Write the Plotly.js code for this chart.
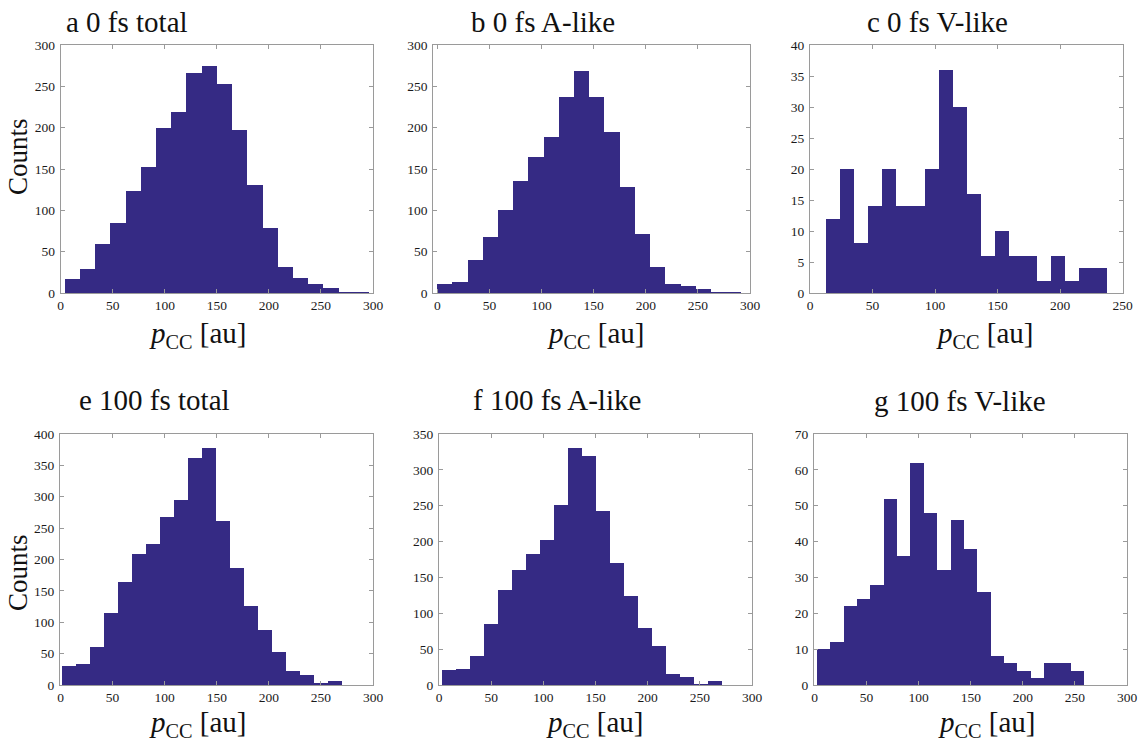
<!DOCTYPE html>
<html>
<head>
<meta charset="utf-8">
<script src="https://cdn.plot.ly/plotly-3.0.1.min.js"></script>
<style>html,body{margin:0;padding:0;background:#fff;}#chart{width:1148px;height:743px;}</style>
</head>
<body>
<div id="chart"></div>
<script>
// ---- Data ----
const panelTitles = ["a 0 fs total", "b 0 fs A-like", "c 0 fs V-like",
                     "e 100 fs total", "f 100 fs A-like", "g 100 fs V-like"];

// histogram counts (20 bins each)
const countsA = [17, 29, 59, 85, 123, 153, 200, 219, 266, 274, 253, 197, 131, 79, 31, 18, 11, 6, 1, 1];
const countsB = [11, 13, 40, 68, 100, 136, 164, 189, 237, 269, 237, 195, 128, 71, 32, 11, 9, 5, 1, 1];
const countsC = [12, 20, 8, 14, 20, 14, 14, 20, 36, 30, 16, 6, 10, 6, 6, 2, 6, 2, 4, 4];
const countsE = [31, 34, 61, 114, 164, 208, 224, 268, 295, 361, 377, 261, 187, 126, 88, 52, 23, 16, 3, 6];
const countsF = [21, 22, 40, 85, 132, 160, 182, 202, 251, 330, 320, 243, 170, 124, 79, 54, 15, 11, 1, 5];
const countsG = [10, 12, 22, 24, 28, 52, 36, 62, 48, 32, 46, 38, 26, 8, 6, 4, 2, 6, 6, 4];

// bin range [first edge, last edge] in p_CC (au)
const binsA = [3.5, 296];
const binsB = [0, 292];
const binsC = [13, 237.7];
const binsE = [1.6, 270.5];
const binsF = [3.2, 270.8];
const binsG = [2.2, 259];

// axis ranges
const xRangeA = [0, 300], yRangeA = [0, 300];
const xRangeB = [-4, 300], yRangeB = [0, 300];
const xRangeC = [0, 250], yRangeC = [0, 40];
const xRangeE = [-0.5, 300], yRangeE = [0, 400];
const xRangeF = [0, 300], yRangeF = [0, 350];
const xRangeG = [-0.5, 300], yRangeG = [0, 70];
const yDticks = [50, 50, 5, 50, 50, 10];

// ---- Layout geometry (pixels) ----
const W = 1148, H = 743;
const frames = [ // [left, right, top, bottom]
  [60.7, 373, 45, 293],
  [433.3, 750, 45, 293],
  [810, 1122.5, 45, 293],
  [60, 373, 434, 685],
  [439, 752, 434, 685],
  [814, 1127, 434, 685]
];
const titlePos = [[64, 22], [469, 22], [865, 22], [77, 400], [471, 400], [872, 401]];
const xlabPos = [[198, 335], [596, 335], [985, 335], [198, 724], [595, 724], [987, 724]];
const countsPos = [[18, 157], [18, 573]];

const allCounts = [countsA, countsB, countsC, countsE, countsF, countsG];
const allBins = [binsA, binsB, binsC, binsE, binsF, binsG];
const xRanges = [xRangeA, xRangeB, xRangeC, xRangeE, xRangeF, xRangeG];
const yRanges = [yRangeA, yRangeB, yRangeC, yRangeE, yRangeF, yRangeG];

const barColor = "#352a84";
const frameColor = "#9a9a9a";
const serif = "Liberation Serif, Times New Roman, serif";

const traces = [];
const layout = {
  width: W, height: H,
  margin: {l: 0, r: 0, t: 0, b: 0},
  paper_bgcolor: "#ffffff", plot_bgcolor: "#ffffff",
  showlegend: false,
  bargap: 0,
  font: {family: serif, color: "#1a1a1a"},
  annotations: []
};

allCounts.forEach((counts, i) => {
  const n = counts.length;
  const [lo, hi] = allBins[i];
  const w = (hi - lo) / n;
  const centers = counts.map((_, k) => lo + w * (k + 0.5));
  const sfx = i === 0 ? "" : String(i + 1);
  traces.push({
    type: "bar", x: centers, y: counts, width: w,
    marker: {color: barColor, line: {width: 0}},
    xaxis: "x" + sfx, yaxis: "y" + sfx,
    hoverinfo: "x+y"
  });
  const f = frames[i];
  const axCommon = {
    showline: true, linecolor: frameColor, linewidth: 1, mirror: "ticks",
    ticks: "inside", ticklen: 4, tickcolor: frameColor, tickwidth: 1,
    showgrid: false, zeroline: false,
    tickfont: {family: serif, size: 13.5, color: "#1a1a1a"}
  };
  layout["xaxis" + sfx] = Object.assign({}, axCommon, {
    domain: [f[0] / W, f[1] / W], range: xRanges[i], dtick: 50, tick0: 0,
    anchor: "y" + sfx
  });
  layout["yaxis" + sfx] = Object.assign({}, axCommon, {
    domain: [1 - f[3] / H, 1 - f[2] / H], range: yRanges[i], dtick: yDticks[i], tick0: 0,
    anchor: "x" + sfx, ticklabelstandoff: 2
  });
  layout.annotations.push({
    xref: "paper", yref: "paper", x: titlePos[i][0] / W, y: 1 - titlePos[i][1] / H,
    xanchor: "left", yanchor: "middle", showarrow: false,
    text: panelTitles[i], font: {family: serif, size: 29, color: "#111"}
  });
  layout.annotations.push({
    xref: "paper", yref: "paper", x: xlabPos[i][0] / W, y: 1 - xlabPos[i][1] / H,
    xanchor: "center", yanchor: "middle", showarrow: false,
    text: "<i>p</i><sub>CC</sub> [au]", font: {family: serif, size: 29, color: "#111"}
  });
});
countsPos.forEach(p => {
  layout.annotations.push({
    xref: "paper", yref: "paper", x: p[0] / W, y: 1 - p[1] / H,
    xanchor: "center", yanchor: "middle", showarrow: false, textangle: -90,
    text: "Counts", font: {family: serif, size: 27, color: "#111"}
  });
});

Plotly.newPlot("chart", traces, layout, {displayModeBar: false});
</script>
</body>
</html>
